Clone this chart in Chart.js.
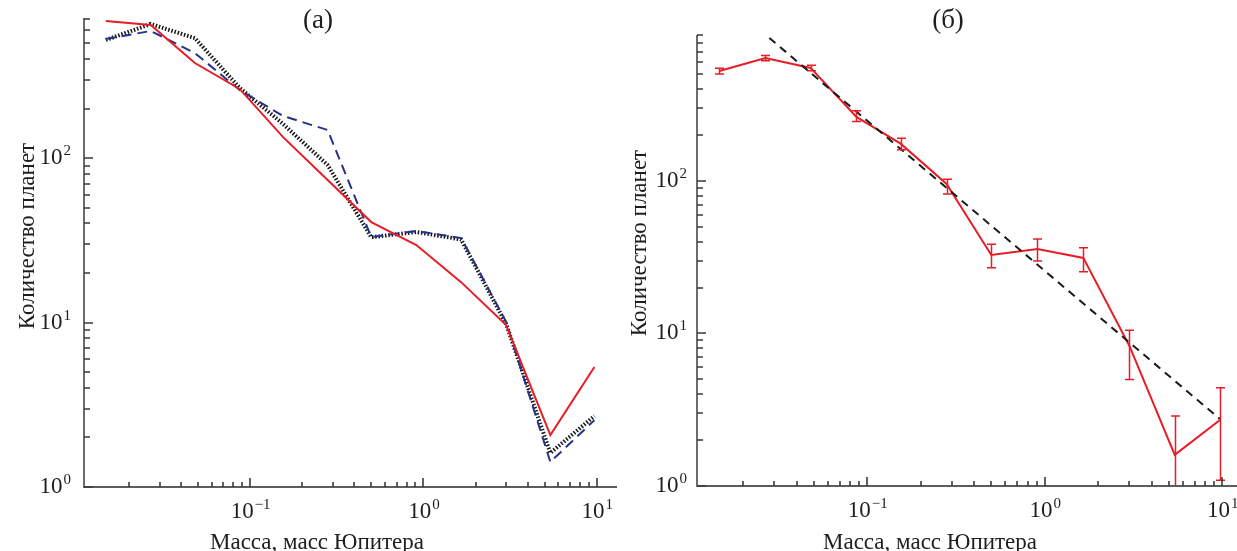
<!DOCTYPE html>
<html>
<head>
<meta charset="utf-8">
<script src="https://cdn.jsdelivr.net/npm/chart.js@4.4.1/dist/chart.umd.min.js"></script>
<style>
html, body { margin: 0; padding: 0; background: #fff; overflow: hidden; }
body { width: 1237px; height: 551px; position: relative; }
#wrapA { position: absolute; left: 0; top: 0; width: 620px; height: 551px; }
#wrapB { position: absolute; left: 617px; top: 0; width: 628px; height: 551px; }
</style>
</head>
<body>
<div id="wrapA"><canvas id="chartA" width="620" height="551"></canvas></div>
<div id="wrapB"><canvas id="chartB" width="628" height="551"></canvas></div>
<script>
// mass bins (Jupiter masses)
const massBins = [0.0147, 0.0267, 0.048, 0.087, 0.155, 0.28, 0.5, 0.91, 1.65, 3.0, 5.4, 9.7];

// panel (a)
const countsRedA  = [680, 643, 378, 263, 134, 73.5, 40.8, 29.6, 17.6, 9.65, 2.07, 5.36];
const countsBlueA = [529, 592, 435, 259, 180, 148, 33.1, 36, 32.6, 10.1, 1.42, 2.55];
const countsDotA  = [522, 653, 536, 267, 161, 90.7, 33, 35.5, 32, 9.8, 1.61, 2.7];

// panel (b)
const countsB   = [526, 641, 551, 263, 175, 95.5, 32.7, 35.8, 31.3, 8.28, 1.6, 2.71];
const errLowB   = [503, 615, 528, 245, 160, 82.2, 27, 29.9, 25.4, 5.0, 0.33, 1.09];
const errHighB  = [549, 666, 574, 289, 190.5, 102.6, 38.5, 41.7, 36.5, 10.5, 2.88, 4.41];
const fitMass   = [0.0281, 9.7];
const fitCounts = [867, 2.75];

// axes
const xMajorTicks = [0.1, 1, 10];
const xMinorTicks = [0.02, 0.03, 0.04, 0.05, 0.06, 0.07, 0.08, 0.09,
                     0.2, 0.3, 0.4, 0.5, 0.6, 0.7, 0.8, 0.9,
                     2, 3, 4, 5, 6, 7, 8, 9];
const xTickLabels = [['10', '−1'], ['10', '0'], ['10', '1']];
const yMajorTicks = [1, 10, 100];
const yMinorTicksA = [2, 3, 4, 5, 6, 7, 8, 9, 20, 30, 40, 50, 60, 70, 80, 90,
                      200, 300, 400, 500, 600, 700];
const yMinorTicksB = [2, 3, 4, 5, 6, 7, 8, 9, 20, 30, 40, 50, 60, 70, 80, 90,
                      200, 300, 400, 500, 600, 700, 800, 900];
const yTickLabels = [['10', '0'], ['10', '1'], ['10', '2']];

const RED = 'rgb(232, 28, 38)';
const NAVY = 'rgb(38, 50, 138)';
const SERIF = '"Liberation Serif", "DejaVu Serif", serif';

function points(xs, ys) {
    return xs.map((x, i) => ({ x: x, y: ys[i] }));
}

function tickList(majors, minors) {
    return majors.map(v => ({ value: v, major: true }))
        .concat(minors.map(v => ({ value: v, major: false })));
}

// axes, ticks, labels and titles drawn in the style of the figure
const panelPlugin = {
    id: 'panel',
    afterDraw(chart, args, o) {
        const ctx = chart.ctx, a = chart.chartArea;
        const xs = chart.scales.x, ys = chart.scales.y;
        ctx.save();
        ctx.strokeStyle = '#5c5c5c';
        ctx.lineWidth = 1.8;
        ctx.beginPath();
        ctx.moveTo(a.left, a.top);
        ctx.lineTo(a.left, a.bottom);
        ctx.lineTo(a.right + 2, a.bottom);
        ctx.stroke();

        ctx.strokeStyle = '#3a3a3a';
        ctx.lineWidth = 1.6;
        ctx.beginPath();
        xs.ticks.forEach(t => {
            const px = Math.round(xs.getPixelForValue(t.value));
            ctx.moveTo(px, a.bottom);
            ctx.lineTo(px, a.bottom - (t.major ? 9 : 5));
        });
        ys.ticks.forEach(t => {
            const py = Math.round(ys.getPixelForValue(t.value));
            ctx.moveTo(a.left, py);
            ctx.lineTo(a.left + (t.major ? 9 : 6), py);
        });
        ctx.stroke();

        const big = '23px ' + SERIF, small = '15px ' + SERIF;
        ctx.fillStyle = '#1e1e1e';
        ctx.textBaseline = 'alphabetic';
        ctx.textAlign = 'left';
        xMajorTicks.forEach((v, i) => {
            const px = xs.getPixelForValue(v);
            ctx.font = big;
            const w1 = ctx.measureText(xTickLabels[i][0]).width;
            ctx.font = small;
            const w2 = ctx.measureText(xTickLabels[i][1]).width;
            const x0 = px - (w1 + w2) / 2;
            const base = a.bottom + 31;
            ctx.font = big;
            ctx.fillText(xTickLabels[i][0], x0, base);
            ctx.font = small;
            ctx.fillText(xTickLabels[i][1], x0 + w1 + 1, base - 9);
        });
        yMajorTicks.forEach((v, i) => {
            const py = ys.getPixelForValue(v);
            ctx.font = small;
            const w2 = ctx.measureText(yTickLabels[i][1]).width;
            ctx.font = big;
            const w1 = ctx.measureText(yTickLabels[i][0]).width;
            const xr = a.left - o.yLabelGap;
            const base = py + 6;
            ctx.fillText(yTickLabels[i][0], xr - w2 - 1 - w1, base);
            ctx.font = small;
            ctx.fillText(yTickLabels[i][1], xr - w2, base - 9);
        });

        ctx.font = '23px ' + SERIF;
        ctx.textAlign = 'center';
        ctx.fillText(o.xTitle, o.xTitleX, 549);
        ctx.textBaseline = 'middle';
        ctx.save();
        ctx.translate(o.yTitleX, o.yTitleY);
        ctx.rotate(-Math.PI / 2);
        ctx.fillText(o.yTitle, 0, 0);
        ctx.restore();
        ctx.font = '27px ' + SERIF;
        ctx.fillText(o.letter, o.letterX, 21);
        ctx.restore();
    }
};

const errorBarPlugin = {
    id: 'errorBars',
    afterDatasetsDraw(chart, args, o) {
        if (!o.low) return;
        const ctx = chart.ctx, a = chart.chartArea;
        const xs = chart.scales.x, ys = chart.scales.y;
        ctx.save();
        ctx.beginPath();
        ctx.rect(a.left, a.top, a.right - a.left, a.bottom - a.top);
        ctx.clip();
        ctx.strokeStyle = RED;
        ctx.lineWidth = 1.5;
        ctx.beginPath();
        o.x.forEach((m, i) => {
            const px = Math.round(xs.getPixelForValue(m)) + 0.5;
            const y1 = ys.getPixelForValue(o.low[i]);
            const y2 = ys.getPixelForValue(o.high[i]);
            ctx.moveTo(px, y1); ctx.lineTo(px, y2);
            ctx.moveTo(px - 4.5, y1); ctx.lineTo(px + 4.5, y1);
            ctx.moveTo(px - 4.5, y2); ctx.lineTo(px + 4.5, y2);
        });
        ctx.stroke();
        ctx.restore();
    }
};

function logScales(yMax, yMinors) {
    return {
        x: {
            type: 'logarithmic', display: false, min: 0.011, max: 12.75,
            ticks: { display: false, autoSkip: false },
            afterBuildTicks: s => { s.ticks = tickList(xMajorTicks, xMinorTicks); }
        },
        y: {
            type: 'logarithmic', display: false, min: 1, max: yMax,
            ticks: { display: false, autoSkip: false },
            afterBuildTicks: s => { s.ticks = tickList(yMajorTicks, yMinors); }
        }
    };
}

const common = {
    responsive: false,
    animation: false,
    events: [],
    elements: { point: { radius: 0 }, line: { tension: 0 } }
};

new Chart(document.getElementById('chartA'), {
    type: 'scatter',
    data: {
        datasets: [
            { data: points(massBins, countsRedA), showLine: true, borderColor: RED, borderWidth: 2 },
            { data: points(massBins, countsBlueA), showLine: true, borderColor: NAVY, borderWidth: 2, borderDash: [10, 6] },
            { data: points(massBins, countsDotA), showLine: true, borderColor: '#151515', borderWidth: 4, borderDash: [1.5, 1.8] }
        ]
    },
    options: Object.assign({}, common, {
        layout: { padding: { left: 84, right: 5, top: 18, bottom: 64 } },
        scales: logScales(710, yMinorTicksA),
        plugins: {
            legend: { display: false },
            tooltip: { enabled: false },
            panel: {
                letter: '(а)', letterX: 318,
                xTitle: 'Масса, масс Юпитера', xTitleX: 317,
                yTitle: 'Количество планет', yTitleX: 28, yTitleY: 236,
                yLabelGap: 13
            }
        }
    }),
    plugins: [panelPlugin]
});

new Chart(document.getElementById('chartB'), {
    type: 'scatter',
    data: {
        datasets: [
            { data: points(fitMass, fitCounts), showLine: true, borderColor: '#1a1a1a', borderWidth: 2, borderDash: [8, 6] },
            { data: points(massBins, countsB), showLine: true, borderColor: RED, borderWidth: 2 }
        ]
    },
    options: Object.assign({}, common, {
        layout: { padding: { left: 80, right: 4, top: 35, bottom: 65 } },
        scales: logScales(906, yMinorTicksB),
        plugins: {
            legend: { display: false },
            tooltip: { enabled: false },
            errorBars: { x: massBins, low: errLowB, high: errHighB },
            panel: {
                letter: '(б)', letterX: 331,
                xTitle: 'Масса, масс Юпитера', xTitleX: 313,
                yTitle: 'Количество планет', yTitleX: 23, yTitleY: 243,
                yLabelGap: 10
            }
        }
    }),
    plugins: [errorBarPlugin, panelPlugin]
});
</script>
</body>
</html>
